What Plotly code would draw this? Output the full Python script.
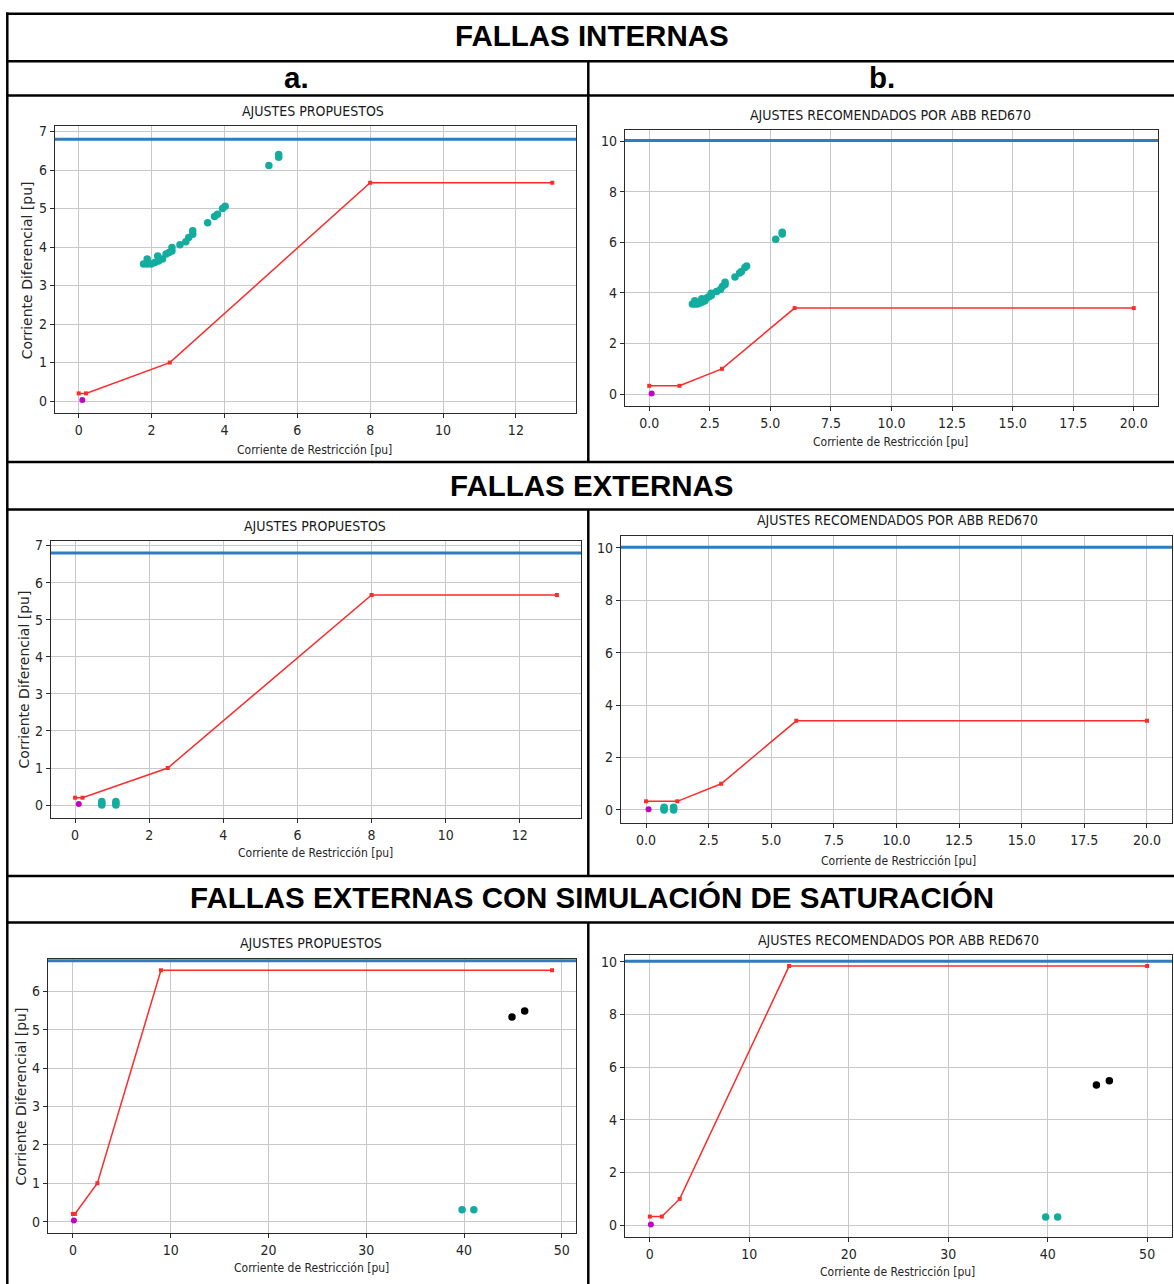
import plotly.graph_objects as go

# ---------------- data ----------------
# characteristic curves (restraint current vs differential current, pu)
prop_curve_x = [0, 0.2, 2.5, 8, 13]
prop_curve_y = [0.2, 0.2, 1.0, 5.67, 5.67]
abb_curve_x = [0, 1.25, 3, 6, 20]
abb_curve_y = [0.33, 0.33, 1.0, 3.4, 3.4]
sat_prop_curve_x = [0, 0.2, 2.5, 9, 49]
sat_prop_curve_y = [0.2, 0.2, 1.0, 6.55, 6.55]
sat_abb_curve_x = [0, 1.2, 3, 14, 50]
sat_abb_curve_y = [0.33, 0.33, 1.0, 9.84, 9.84]

# horizontal limit (unrestrained) levels
prop_limit = [6.8]
abb_limit = [10.02]

# internal fault points
int_x = [1.78, 1.88, 1.88, 1.99, 2.09, 2.17, 2.19, 2.30, 2.40, 2.48, 2.56, 2.56, 2.78,
         2.94, 3.02, 3.13, 3.13, 3.54, 3.73, 3.81, 3.95, 4.02, 5.22, 5.49, 5.49]
int_y = [3.56, 3.69, 3.56, 3.56, 3.60, 3.77, 3.64, 3.69, 3.82, 3.86, 3.99, 3.90, 4.06,
         4.14, 4.25, 4.33, 4.42, 4.63, 4.79, 4.85, 5.00, 5.06, 6.12, 6.40, 6.33]

# external fault points
ext_x = [0.72, 0.72, 0.72, 1.10, 1.10, 1.10]
ext_y = [0.00, 0.05, 0.10, 0.00, 0.05, 0.10]

# external faults with CT saturation
sat_teal_x = [39.8, 41.0]
sat_teal_y = [0.31, 0.31]
sat_black_x = [44.9, 46.2]
sat_black_y = [5.33, 5.49]

# no-fault point
mag_x = [0.1]
mag_y = [0.03]

# tick labels
ticks_13 = [0, 2, 4, 6, 8, 10, 12]
ticks_20 = [0, 2.5, 5, 7.5, 10, 12.5, 15, 17.5, 20]
ticks_50 = [0, 10, 20, 30, 40, 50]
yticks_7 = [0, 1, 2, 3, 4, 5, 6, 7]
yticks_6 = [0, 1, 2, 3, 4, 5, 6]
yticks_10 = [0, 2, 4, 6, 8, 10]

W, H = 1174, 1284
RED = "#ff2a2a"
BLUE = "#2f7cbf"
TEAL = "#12ad9f"
MAG = "#c400c4"
COND = "DejaVu Sans Condensed, Liberation Sans Narrow, Roboto Condensed, Roboto, sans-serif"


def PX(x):
    return x / W


def PY(y):
    return 1 - y / H


panels = [
    dict(frame=(55, 123, 576, 411), xr=[-0.65, 13.65], yr=[-0.31, 7.15],
         xt=ticks_13, xtf=None, yt=yticks_7,
         cx=prop_curve_x, cy=prop_curve_y, lim=prop_limit,
         pts=[(int_x, int_y, TEAL)], ylab=(27, 268),
         title="AJUSTES PROPUESTOS", tpos=(313, 108), xlab=(314, 448)),
    dict(frame=(625, 127, 1158, 404), xr=[-1, 21], yr=[-0.47, 10.45],
         xt=ticks_20, xtf=".1f", yt=yticks_10,
         cx=abb_curve_x, cy=abb_curve_y, lim=abb_limit,
         pts=[(int_x, int_y, TEAL)], ylab=None,
         title="AJUSTES RECOMENDADOS POR ABB RED670", tpos=(890, 112), xlab=(890, 440)),
    dict(frame=(51, 539, 581, 817), xr=[-0.65, 13.65], yr=[-0.35, 7.13],
         xt=ticks_13, xtf=None, yt=yticks_7,
         cx=prop_curve_x, cy=prop_curve_y, lim=prop_limit,
         pts=[(ext_x, ext_y, TEAL)], ylab=(24, 678),
         title="AJUSTES PROPUESTOS", tpos=(315, 524), xlab=(315, 852)),
    dict(frame=(621, 534, 1172, 822), xr=[-1, 21], yr=[-0.5, 10.46],
         xt=ticks_20, xtf=".1f", yt=yticks_10,
         cx=abb_curve_x, cy=abb_curve_y, lim=abb_limit,
         pts=[(ext_x, ext_y, TEAL)], ylab=None,
         title="AJUSTES RECOMENDADOS POR ABB RED670", tpos=(897, 518), xlab=(898, 860)),
    dict(frame=(48, 958, 576, 1233), xr=[-2.55, 51.45], yr=[-0.3, 6.85],
         xt=ticks_50, xtf=None, yt=yticks_6,
         cx=sat_prop_curve_x, cy=sat_prop_curve_y, lim=prop_limit,
         pts=[(sat_teal_x, sat_teal_y, TEAL), (sat_black_x, sat_black_y, "#000000")],
         ylab=(21, 1096),
         title="AJUSTES PROPUESTOS", tpos=(311, 942), xlab=(311, 1268)),
    dict(frame=(625, 954, 1172, 1237), xr=[-2.5, 52.5], yr=[-0.45, 10.27],
         xt=ticks_50, xtf=None, yt=yticks_10,
         cx=sat_abb_curve_x, cy=sat_abb_curve_y, lim=abb_limit,
         pts=[(sat_teal_x, sat_teal_y, TEAL), (sat_black_x, sat_black_y, "#000000")],
         ylab=None,
         title="AJUSTES RECOMENDADOS POR ABB RED670", tpos=(898, 939), xlab=(897, 1272)),
]

fig = go.Figure()
annotations = []
shapes = []
layout_axes = {}

for i, p in enumerate(panels, start=1):
    xa = "x" if i == 1 else f"x{i}"
    ya = "y" if i == 1 else f"y{i}"
    xkey = "xaxis" if i == 1 else f"xaxis{i}"
    ykey = "yaxis" if i == 1 else f"yaxis{i}"
    l, t, r, b = p["frame"]
    tickfont = dict(family=COND, size=14, color="#262626")
    layout_axes[xkey] = dict(
        domain=[PX(l), PX(r)], anchor=ya, range=p["xr"],
        tickmode="array", tickvals=p["xt"],
        ticktext=[(f"{v:.1f}" if p["xtf"] else f"{v:g}") for v in p["xt"]],
        showgrid=True, gridcolor="#c8c8c8", gridwidth=1.2,
        zeroline=False, showline=True, mirror=True, linecolor="#2b2b2b", linewidth=1.3,
        ticks="outside", ticklen=4, tickcolor="#2b2b2b", tickfont=tickfont,
    )
    layout_axes[ykey] = dict(
        domain=[PY(b), PY(t)], anchor=xa, range=p["yr"],
        tickmode="array", tickvals=p["yt"], ticktext=[f"{v:g}" for v in p["yt"]],
        showgrid=True, gridcolor="#c8c8c8", gridwidth=1.2,
        zeroline=False, showline=True, mirror=True, linecolor="#2b2b2b", linewidth=1.3,
        ticks="outside", ticklen=4, tickcolor="#2b2b2b", tickfont=tickfont,
    )
    # limit line
    for lv in p["lim"]:
        shapes.append(dict(type="line", xref=f"{xa} domain", yref=ya, x0=0, x1=1,
                           y0=lv, y1=lv, line=dict(color=BLUE, width=3), layer="above"))
    # characteristic curve
    fig.add_trace(go.Scatter(x=p["cx"], y=p["cy"], mode="lines+markers", xaxis=xa, yaxis=ya,
                             line=dict(color=RED, width=1.5),
                             marker=dict(symbol="square", size=4, color=RED),
                             showlegend=False, hoverinfo="skip"))
    # fault points
    for (px_, py_, col) in p["pts"]:
        fig.add_trace(go.Scatter(x=px_, y=py_, mode="markers", xaxis=xa, yaxis=ya,
                                 marker=dict(size=7.5, color=col, line=dict(width=0)),
                                 showlegend=False))
    fig.add_trace(go.Scatter(x=mag_x, y=mag_y, mode="markers", xaxis=xa, yaxis=ya,
                             marker=dict(size=6, color=MAG, line=dict(width=0)),
                             showlegend=False))
    # titles / axis labels
    annotations.append(dict(text=p["title"], x=PX(p["tpos"][0]), y=PY(p["tpos"][1]),
                            xref="paper", yref="paper", showarrow=False,
                            xanchor="center", yanchor="middle",
                            font=dict(family=COND, size=14, color="#1a1a1a")))
    annotations.append(dict(text="Corriente de Restricción [pu]", x=PX(p["xlab"][0]),
                            y=PY(p["xlab"][1]), xref="paper", yref="paper", showarrow=False,
                            xanchor="center", yanchor="middle",
                            font=dict(family=COND, size=12, color="#262626")))
    if p["ylab"]:
        annotations.append(dict(text="Corriente Diferencial [pu]", x=PX(p["ylab"][0]),
                                y=PY(p["ylab"][1]), xref="paper", yref="paper",
                                showarrow=False, textangle=-90,
                                xanchor="center", yanchor="middle",
                                font=dict(family="DejaVu Sans", size=14, color="#262626")))

# table headings
BOLD = "Liberation Sans, Arial, sans-serif"
for txt, x, y in [("<b>FALLAS INTERNAS</b>", 592, 33), ("<b>a.</b>", 297, 75),
                  ("<b>b.</b>", 882, 75), ("<b>FALLAS EXTERNAS</b>", 592, 484),
                  ("<b>FALLAS EXTERNAS CON SIMULACIÓN DE SATURACIÓN</b>", 592, 897)]:
    annotations.append(dict(text=txt, x=PX(x), y=PY(y), xref="paper", yref="paper",
                            showarrow=False, xanchor="center", yanchor="middle",
                            font=dict(family=BOLD, size=29.5, color="#000000")))

# table rules
LW = 2.5
for yy in [10.7, 58.3, 92.7, 460, 507.7, 875, 921.7]:
    shapes.append(dict(type="line", xref="paper", yref="paper", x0=PX(6), x1=PX(W + 5),
                       y0=PY(yy), y1=PY(yy), line=dict(color="#000", width=LW)))
shapes.append(dict(type="line", xref="paper", yref="paper", x0=PX(7.3), x1=PX(7.3),
                   y0=PY(9.5), y1=PY(H + 5), line=dict(color="#000", width=LW)))
for (y0, y1) in [(58.3, 460), (507.7, 875), (921.7, H + 5)]:
    shapes.append(dict(type="line", xref="paper", yref="paper", x0=PX(588.3), x1=PX(588.3),
                       y0=PY(y0), y1=PY(y1), line=dict(color="#000", width=LW)))

fig.update_layout(
    width=W, height=H, autosize=False,
    margin=dict(l=0, r=0, t=0, b=0),
    paper_bgcolor="white", plot_bgcolor="white",
    showlegend=False,
    annotations=annotations, shapes=shapes,
    **layout_axes,
)

fig.write_html(
    "out.html", config={"displayModeBar": False},
    post_script=("document.body.style.margin='0';document.body.style.padding='0';"
                 "var gd=document.getElementById('{plot_id}');"
                 "gd.style.position='absolute';gd.style.top='0px';gd.style.left='0px';"),
)
